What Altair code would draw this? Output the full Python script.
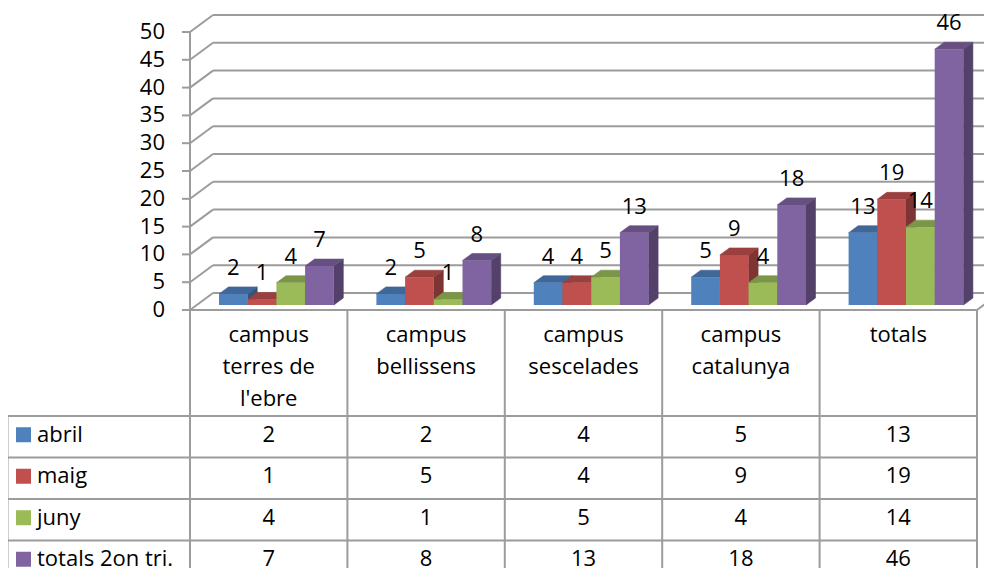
import altair as alt
import pandas as pd

# ---------------- data ----------------
categories = ["campus terres de l'ebre", "campus bellissens", "campus sescelades",
              "campus catalunya", "totals"]
category_lines = [["campus", "terres de", "l'ebre"], ["campus", "bellissens"],
                  ["campus", "sescelades"], ["campus", "catalunya"], ["totals"]]
series = ["abril", "maig", "juny", "totals 2on tri."]
abril = [2, 2, 4, 5, 13]
maig = [1, 5, 4, 9, 19]
juny = [4, 1, 5, 4, 14]
totals_2on_tri = [7, 8, 13, 18, 46]
y_ticks = [0, 5, 10, 15, 20, 25, 30, 35, 40, 45, 50]

front_colors = ["#4F81BD", "#C0504D", "#9BBB59", "#8064A2"]
top_colors = ["#3F6797", "#9A403E", "#7C9647", "#665082"]
side_colors = ["#33547B", "#7D3432", "#657A3A", "#534169"]

series_values = [abril, maig, juny, totals_2on_tri]

# ---------------- layout ----------------
W, H = 976, 560
PX = 5.56            # pixels per unit
BASE = 305.0         # page y of bar bottoms
UMAX = (BASE - 8) / PX
UMIN = UMAX - H / PX
X_LEFT = 190.0
CAT_W = 157.4
BAR_OFF = 29.0
BAR_W = 28.7
DX, DY = 9.5, 7.0
WALL_DX, WALL_DY = 23.0, 17.0
FRONT_DROP = 5.0
FONT = "Open Sans"
FS = 22
GRID = "#9c9c9c"
HEADER_TOP = 310.0
ROW_TOP = 416.0
ROW_H = 41.5
LEFT_EDGE = 7.5

xs = alt.Scale(domain=[8, 8 + W], nice=False, zero=False)
vs = alt.Scale(domain=[UMIN, UMAX], nice=False, zero=False)
ps = alt.Scale(domain=[8, 8 + H], reverse=True, nice=False, zero=False)


def X(f):
    return alt.X(f, type="quantitative", scale=xs, axis=None)


def YV(f):
    return alt.Y(f, type="quantitative", scale=vs, axis=None, stack=False)


def YP(f):
    return alt.Y(f, type="quantitative", scale=ps, axis=None, stack=False)


def col(rng, ch=alt.Color):
    return ch("series:N", scale=alt.Scale(domain=series, range=rng), legend=None)


# ---------------- bars ----------------
bars = pd.DataFrame([
    {"cat": categories[i], "ci": i, "series": series[j], "si": j,
     "value": series_values[j][i], "bid": f"b{i}_{j}"}
    for i in range(len(categories)) for j in range(len(series))
])

POS = {
    "x0": f"{X_LEFT} + datum.ci*{CAT_W} + {BAR_OFF} + datum.si*{BAR_W}",
    "x1": f"datum.x0 + {BAR_W}",
    "zero": "0",
}
bar_base = alt.Chart(bars).transform_calculate(**POS)

d_u = DY / PX

side_v = bars.merge(pd.DataFrame({"k": [0, 1]}), how="cross")
top_v = bars.merge(pd.DataFrame({"k": [0, 1, 2, 3]}), how="cross")

sides = alt.Chart(side_v).transform_calculate(**POS).transform_calculate(
    vx=f"datum.k==0 ? datum.x1 : datum.x1 + {DX}",
    vt=f"datum.k==0 ? datum.value : datum.value + {d_u}",
    vb=f"datum.k==0 ? 0 : {d_u}",
).mark_area(strokeWidth=0.6, opacity=1).encode(
    x=X("vx"), y=YV("vt"), y2="vb:Q", color=col(side_colors),
    stroke=col(side_colors, alt.Stroke),
    detail="bid:N")

tops = alt.Chart(top_v).transform_calculate(**POS).transform_calculate(
    vx=f"datum.k==0 ? datum.x0 : datum.k==1 ? datum.x0 + {DX} : datum.k==2 ? datum.x1 : datum.x1 + {DX}",
    vt=f"datum.k==0 ? datum.value : datum.value + {d_u}",
    vb=f"datum.k<=2 ? datum.value : datum.value + {d_u}",
).mark_area(strokeWidth=0.6, opacity=1).encode(
    x=X("vx"), y=YV("vt"), y2="vb:Q", color=col(top_colors),
    stroke=col(top_colors, alt.Stroke),
    detail="bid:N")

fronts = bar_base.mark_rect().encode(
    x=X("x0"), x2="x1:Q", y=YV("value"), y2="zero:Q", color=col(front_colors))

labels = bar_base.transform_calculate(xc=f"datum.x0 + {BAR_W / 2}").mark_text(
    font=FONT, fontSize=FS, color="black", baseline="middle", align="center", dy=-26
).encode(x=X("xc"), y=YV("value"), text="value:Q")

# ---------------- walls / axis ----------------
grid = alt.Chart(pd.DataFrame({"v": y_ticks})).transform_calculate(
    uf=f"datum.v - {FRONT_DROP / PX}",
    ub=f"datum.v + {(WALL_DY - FRONT_DROP) / PX}",
    xa=f"{X_LEFT}",
    xb=f"{X_LEFT + WALL_DX}",
    xe="1000",
    xt=f"{X_LEFT - 8}",
    xl=f"{X_LEFT - 25}",
)
grid_h = grid.mark_rule(color=GRID, strokeWidth=2).encode(x=X("xb"), x2="xe:Q", y=YV("ub"))
grid_d = grid.mark_rule(color=GRID, strokeWidth=2).encode(x=X("xa"), x2="xb:Q", y=YV("uf"), y2="ub:Q")
ticks = grid.mark_rule(color=GRID, strokeWidth=2).encode(x=X("xt"), x2="xa:Q", y=YV("uf"))
tick_labels = grid.mark_text(font=FONT, fontSize=FS, color="black", align="right",
                             baseline="middle").encode(x=X("xl"), y=YV("uf"), text="v:Q")
axis_line = alt.Chart(pd.DataFrame({"v0": [min(y_ticks)], "v1": [max(y_ticks)]})).transform_calculate(
    u0=f"datum.v0 - {FRONT_DROP / PX}", u1=f"datum.v1 - {FRONT_DROP / PX}", xa=f"{X_LEFT}"
).mark_rule(color=GRID, strokeWidth=2).encode(x=X("xa"), y=YV("u0"), y2="u1:Q")

# ---------------- data table ----------------
n_cat = len(categories)
n_ser = len(series)
bottom = 8 + H + 20
edges = [X_LEFT + i * CAT_W for i in range(n_cat + 1)]
right = edges[-1]
lines = []
for e in edges:
    lines.append({"x1": e, "x2": e, "y1": HEADER_TOP, "y2": bottom})
lines.append({"x1": LEFT_EDGE, "x2": LEFT_EDGE, "y1": ROW_TOP, "y2": bottom})
lines.append({"x1": X_LEFT - 8, "x2": right, "y1": HEADER_TOP, "y2": HEADER_TOP})
for r in range(n_ser + 1):
    yy = ROW_TOP + r * ROW_H
    lines.append({"x1": LEFT_EDGE, "x2": right, "y1": yy, "y2": yy})
# floor right edge receding
lines.append({"x1": right, "x2": right + WALL_DX, "y1": HEADER_TOP, "y2": HEADER_TOP - WALL_DY})
table_lines = alt.Chart(pd.DataFrame(lines)).mark_rule(color=GRID, strokeWidth=2).encode(
    x=X("x1"), x2="x2:Q", y=YP("y1"), y2="y2:Q")

header_rows = []
for i, parts in enumerate(category_lines):
    for l, t in enumerate(parts):
        header_rows.append({"ci": i, "line": l, "t": t})
header = alt.Chart(pd.DataFrame(header_rows)).transform_calculate(
    hx=f"{X_LEFT} + (datum.ci + 0.5)*{CAT_W}",
    hy=f"{HEADER_TOP + 25} + datum.line*32",
).mark_text(font=FONT, fontSize=FS, color="black", align="center", baseline="middle").encode(
    x=X("hx"), y=YP("hy"), text="t:N")

cell_text = alt.Chart(bars).transform_calculate(
    cx=f"{X_LEFT} + (datum.ci + 0.5)*{CAT_W}",
    cy=f"{ROW_TOP} + (datum.si + 0.5)*{ROW_H} - 2",
).mark_text(font=FONT, fontSize=FS, color="black", align="center", baseline="middle").encode(
    x=X("cx"), y=YP("cy"), text="value:Q")

legend_df = pd.DataFrame({"series": series, "si": list(range(n_ser))})
legend_base = alt.Chart(legend_df).transform_calculate(
    cy=f"{ROW_TOP} + (datum.si + 0.5)*{ROW_H} - 2",
    sy0="datum.cy - 7.5",
    sy1="datum.cy + 7.5",
    sx0="16",
    sx1="31",
    tx="37",
)
legend_sq = legend_base.mark_rect().encode(
    x=X("sx0"), x2="sx1:Q", y=YP("sy0"), y2="sy1:Q", color=col(front_colors))
legend_txt = legend_base.mark_text(font=FONT, fontSize=FS, color="black", align="left",
                                   baseline="middle").encode(x=X("tx"), y=YP("cy"), text="series:N")

chart = alt.layer(
    grid_h, grid_d, axis_line, ticks, tick_labels,
    sides, tops, fronts, labels,
    table_lines, header, cell_text, legend_sq, legend_txt,
).resolve_scale(y="independent", color="independent", stroke="independent").properties(
    width=W, height=H, autosize=alt.AutoSizeParams(type="none"), padding=0,
    background="white",
).configure_view(stroke=None)

chart.save("out.html", embed_options={"renderer": "svg", "actions": False})
